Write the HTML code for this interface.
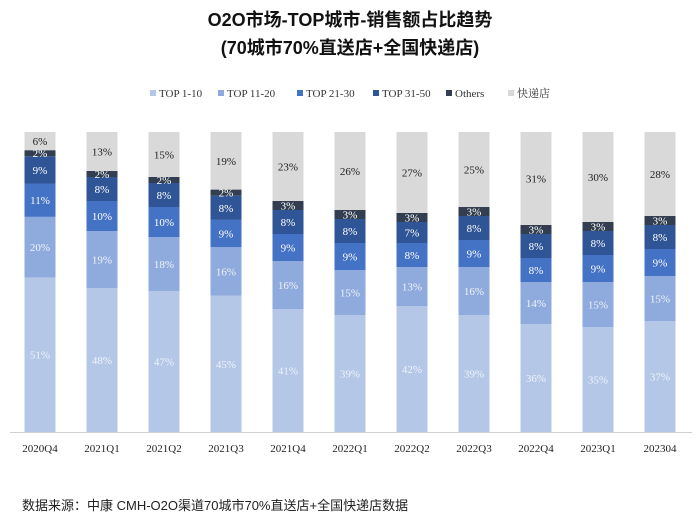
<!DOCTYPE html>
<html><head><meta charset="utf-8">
<style>
body{margin:0;background:#fff;width:700px;height:522px;overflow:hidden;font-family:"Liberation Serif","Noto Serif CJK SC",serif}
</style></head>
<body>
<svg id="chart" width="700" height="522" xmlns="http://www.w3.org/2000/svg">
<text x="350" y="26" text-anchor="middle" font-family="'Liberation Sans','Noto Sans CJK SC',sans-serif" font-weight="bold" font-size="18" fill="#111">O2O市场-TOP城市-销售额占比趋势</text>
<text x="350" y="54" text-anchor="middle" font-family="'Liberation Sans','Noto Sans CJK SC',sans-serif" font-weight="bold" font-size="18" fill="#111">(70城市70%直送店+全国快递店)</text>
<g id="legend"></g>
<g id="bars"></g>
<line x1="10" y1="432.5" x2="692" y2="432.5" stroke="#d0d0d0" stroke-width="1"/>
<g id="xlabels"></g>
<text x="22" y="510" font-family="'Liberation Sans','Noto Sans CJK SC',sans-serif" font-size="13" fill="#222">数据来源：中康 CMH-O2O渠道70城市70%直送店+全国快递店数据</text>
</svg>
<script>
const categories=["2020Q4","2021Q1","2021Q2","2021Q3","2021Q4","2022Q1","2022Q2","2022Q3","2022Q4","2023Q1","202304"];
const seriesNames=["TOP 1-10","TOP 11-20","TOP 21-30","TOP 31-50","Others","快递店"];
const top1_10=[51,48,47,45,41,39,42,39,36,35,37];
const top11_20=[20,19,18,16,16,15,13,16,14,15,15];
const top21_30=[11,10,10,9,9,9,8,9,8,9,9];
const top31_50=[9,8,8,8,8,8,7,8,8,8,8];
const others=[2,2,2,2,3,3,3,3,3,3,3];
const express=[6,13,15,19,23,26,27,25,31,30,28];
const series=[top1_10,top11_20,top21_30,top31_50,others,express];
const colors=["#b4c7e7","#8faadc","#4472c4","#2f5597","#333f50","#d9d9d9"];
const textColors=["#eef3fb","#eef3fb","#ffffff","#ffffff","#ffffff","#222"];
const NS="http://www.w3.org/2000/svg";
const plotTop=132,plotBottom=432,x0=40,step=62,bw=31;
const xPos=i=>x0+i*step;
const yScale=f=>plotBottom-f*(plotBottom-plotTop);
const bars=document.getElementById('bars');
categories.forEach((c,i)=>{
  const total=series.reduce((s,a)=>s+a[i],0);
  let cum=0;
  series.forEach((arr,k)=>{
    const v=arr[i];
    const y1=yScale(cum/total),y2=yScale((cum+v)/total);
    cum+=v;
    const r=document.createElementNS(NS,'rect');
    r.setAttribute('x',xPos(i)-bw/2);r.setAttribute('y',y2);
    r.setAttribute('width',bw);r.setAttribute('height',y1-y2);
    r.setAttribute('fill',colors[k]);
    
    
    bars.appendChild(r);
    const t=document.createElementNS(NS,'text');
    t.setAttribute('x',xPos(i));t.setAttribute('y',(y1+y2)/2+4);
    t.setAttribute('text-anchor','middle');t.setAttribute('font-size','11');
    t.setAttribute('fill',textColors[k]);
    
    
    t.textContent=v+'%';
    bars.appendChild(t);
  });
  const l=document.createElementNS(NS,'text');
  l.setAttribute('x',xPos(i));l.setAttribute('y',452);
  l.setAttribute('text-anchor','middle');l.setAttribute('font-size','11');l.setAttribute('fill','#222');
  
  
  l.textContent=c;
  document.getElementById('xlabels').appendChild(l);
});
const legendX=[150,218,297,373,446,508];
const lg=document.getElementById('legend');
seriesNames.forEach((n,k)=>{
  const g=document.createElementNS(NS,'g');
  
  
  const r=document.createElementNS(NS,'rect');
  r.setAttribute('x',legendX[k]);r.setAttribute('y',90);r.setAttribute('width',6);r.setAttribute('height',6);
  r.setAttribute('fill',colors[k]);
  const t=document.createElementNS(NS,'text');
  t.setAttribute('x',legendX[k]+9);t.setAttribute('y',97);t.setAttribute('font-size','11');t.setAttribute('fill','#333');
  t.textContent=n;
  g.appendChild(r);g.appendChild(t);lg.appendChild(g);
});
</script>
</body></html>
